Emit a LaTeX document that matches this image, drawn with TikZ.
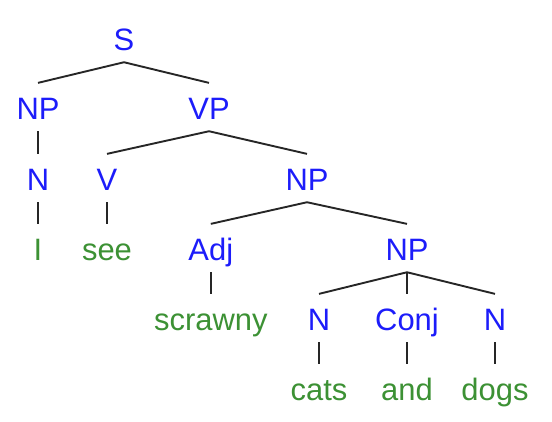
\documentclass[tikz,border=0pt]{standalone}
\usepackage{fontspec}
\setmainfont{Liberation Sans}
\definecolor{catblue}{RGB}{28,28,250}
\definecolor{wordgreen}{RGB}{60,145,52}
\tikzset{
  treenode/.style={anchor=base, font=\fontsize{22}{26}\selectfont, text height=17pt, text depth=0pt, inner ysep=8.5pt, inner xsep=2pt},
  cat/.style={treenode, text=catblue},
  word/.style={treenode, text=wordgreen},
  branch/.style={line width=1.35pt, draw=black!85}
}

\begin{document}
\begin{tikzpicture}

  \useasboundingbox (0,0) rectangle (13.8,10.525);

  \node[cat] at (3.1,9.275) (s) {S};
  \node[cat] at (0.95,7.55) (np) {NP};
  \node[cat] at (5.225,7.55) (vp) {VP};
  \node[cat] at (0.95,5.775) (nI) {N};
  \node[cat] at (2.675,5.775) (v) {V};
  \node[cat] at (7.675,5.775) (npobj) {NP};
  \node[word] at (0.95,4.025) (wI) {I};
  \node[word] at (2.675,4.025) (wsee) {see};
  \node[cat] at (5.27,4.025) (adj) {Adj};
  \node[cat] at (10.175,4.025) (npcoord) {NP};
  \node[word] at (5.27,2.275) (wscrawny) {scrawny};
  \node[cat] at (7.975,2.275) (ncats) {N};
  \node[cat] at (10.175,2.275) (conj) {Conj};
  \node[cat] at (12.375,2.275) (ndogs) {N};
  \node[word] at (7.975,0.525) (wcats) {cats};
  \node[word] at (10.175,0.525) (wand) {and};
  \node[word] at (12.375,0.525) (wdogs) {dogs};

  \draw[branch] (np.north) -- (s.south) -- (vp.north);
  \draw[branch] (np.south) -- (nI.north);
  \draw[branch] (nI.south) -- (wI.north);
  \draw[branch] (v.north) -- (vp.south) -- (npobj.north);
  \draw[branch] (v.south) -- (wsee.north);
  \draw[branch] (adj.north) -- (npobj.south) -- (npcoord.north);
  \draw[branch] (adj.south) -- (wscrawny.north);
  \draw[branch] (ncats.north) -- (npcoord.south) -- (ndogs.north);
  \draw[branch] (npcoord.south) -- (conj.north);
  \draw[branch] (ncats.south) -- (wcats.north);
  \draw[branch] (conj.south) -- (wand.north);
  \draw[branch] (ndogs.south) -- (wdogs.north);

\end{tikzpicture}
\end{document}
